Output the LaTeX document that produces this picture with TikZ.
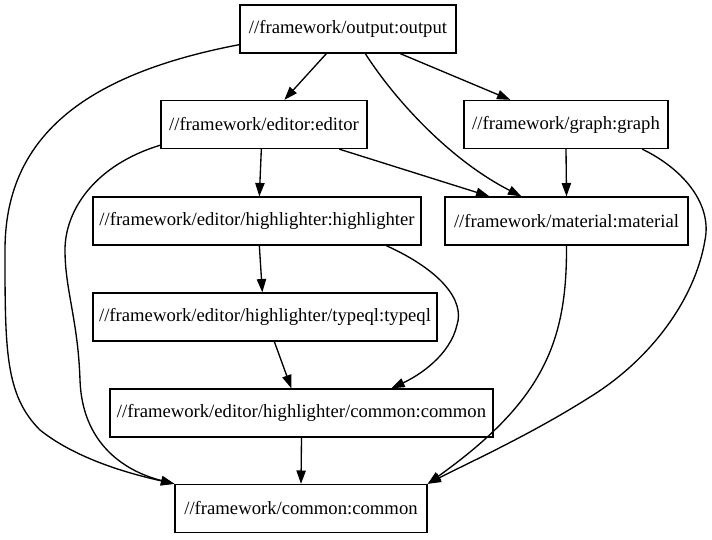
\documentclass[tikz,border=0pt]{standalone}
\usepackage{fontspec}
\setmainfont{Liberation Serif}
\usetikzlibrary{arrows.meta,calc}
\begin{document}
\begin{tikzpicture}[x=0.75pt,y=-0.75pt,
  box/.style={draw,line width=1pt,inner sep=0pt,minimum height=36pt,font=\fontsize{14}{16}\selectfont},
  arr/.style={-{Triangle[length=10pt,width=7pt]},line width=1pt}]
\useasboundingbox (0,0) rectangle (712,539);
\node[box,minimum width=162pt]    (out) at (348,29)    {//framework/output:output};
\node[box,minimum width=154.5pt]  (ed)  at (264,124.5) {//framework/editor:editor};
\node[box,minimum width=153pt]    (gr)  at (566,124.5) {//framework/graph:graph};
\node[box,minimum width=246pt]    (hl)  at (257,221)   {//framework/editor/highlighter:highlighter};
\node[box,minimum width=182.25pt] (mat) at (566.5,221) {//framework/material:material};
\node[box,minimum width=258pt]    (tq)  at (265,317)   {//framework/editor/highlighter/typeql:typeql};
\node[box,minimum width=287.25pt] (hc)  at (301.5,413) {//framework/editor/highlighter/common:common};
\node[box,minimum width=189pt]    (cm)  at (301,508.5) {//framework/common:common};

\draw[arr] ($(out.south west)+(87,0)$) -- ($(ed.north west)+(124,0)$);
\draw[arr] ($(out.south west)+(161,0)$) -- ($(gr.north west)+(47,0)$);
\draw[arr] ($(out.south west)+(126,0)$) .. controls (395,100) and (450,160) .. ($(mat.north west)+(77,0)$);
\draw[arr] ($(out.south west)+(0,-9)$) .. controls (80,75) and (5,140) .. (5,250)
   .. controls (5,350) and (5,395) .. (40,430) .. controls (80,462) and (140,476) .. (cm.north west);
\draw[arr] ($(ed.south west)+(101,0)$) -- ($(hl.north west)+(167,0)$);
\draw[arr] ($(ed.south west)+(179,0)$) -- ($(mat.north west)+(45,0)$);
\draw[arr] ($(ed.south west)+(0,-4)$) .. controls (95,165) and (65,210) .. (65,250)
   .. controls (65,290) and (78,320) .. (80,380) .. controls (82,440) and (120,470) .. (cm.north west);
\draw[arr] (gr.south) -- (mat.north);
\draw[arr] ($(gr.south west)+(179,0)$) .. controls (685,170) and (712,205) .. (705,240)
   .. controls (695,300) and (650,360) .. (590,397) .. controls (530,435) and (470,462) .. (cm.north east);
\draw[arr] (mat.south) .. controls (567,340) and (545,400) .. (cm.north east);
\draw[arr] ($(hl.south west)+(167,0)$) -- ($(tq.north west)+(170,0)$);
\draw[arr] ($(hl.south west)+(294,0)$) .. controls (440,270) and (465,300) .. (457,325)
   .. controls (450,355) and (420,375) .. ($(hc.north west)+(282,0)$);
\draw[arr] ($(tq.south west)+(182,0)$) -- ($(hc.north west)+(182,0)$);
\draw[arr] (hc.south) -- (cm.north);
\end{tikzpicture}
\end{document}
